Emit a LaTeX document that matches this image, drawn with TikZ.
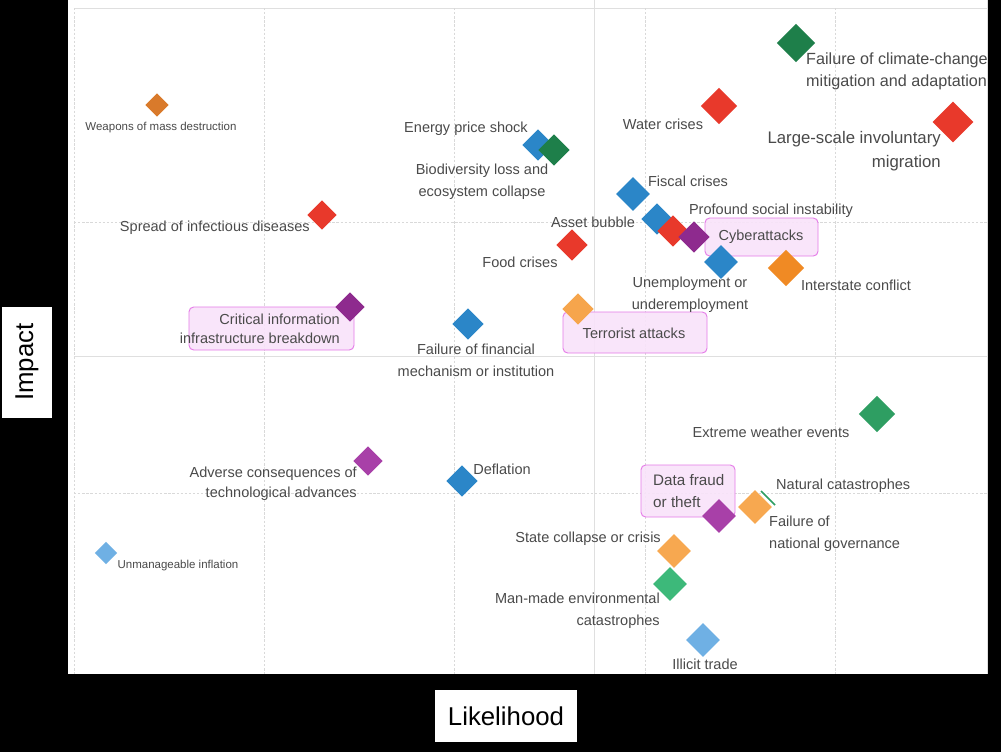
\documentclass[tikz,border=0pt]{standalone}
\usepackage{fontspec}
\setmainfont{Liberation Sans}
\usetikzlibrary{shapes.geometric}
\definecolor{lab}{HTML}{4A4A4A}
\definecolor{cred}{HTML}{E8392B}
\definecolor{cblue}{HTML}{2B86C8}
\definecolor{cgreen}{HTML}{1E7F4A}
\definecolor{cpurp}{HTML}{8E2A8E}
\definecolor{corng}{HTML}{F08A24}
\definecolor{clorng}{HTML}{F7A850}
\definecolor{cwmd}{HTML}{D97A2B}
\definecolor{cmgreen}{HTML}{3DB97A}
\definecolor{cegreen}{HTML}{2E9E62}
\definecolor{clblue}{HTML}{6FB0E4}
\definecolor{cmag}{HTML}{A840A8}
\definecolor{boxfill}{HTML}{F9E3FA}
\definecolor{boxdraw}{HTML}{E57BE8}
\tikzset{
 dm/.style={diamond,inner sep=0pt,minimum size=#1,draw=none,aspect=1},
 lb/.style={text=lab,font=\fontsize{12.4}{13}\selectfont,inner sep=0pt,align=center},
 sl/.style={text=lab,font=\fontsize{9.8}{11}\selectfont,inner sep=0pt},
 hl/.style={draw=boxdraw,fill=boxfill,rounded corners=4pt,line width=0.8pt,fill opacity=0.9,text opacity=1},
 gdash/.style={gray!30,dash pattern=on 2pt off 1.5pt,line width=0.5pt},
 gsol/.style={gray!25,line width=0.8pt}
}
\begin{document}
\begin{tikzpicture}[x=0.03cm,y=-0.03cm]
\fill[black] (0,0) rectangle (1001,752);
\useasboundingbox (0,0) rectangle (1001,752);
\fill[white] (68,0) rectangle (988,674);
% grid
\draw[gsol] (74,8) -- (988,8);
\draw[gsol] (987,0) -- (987,674);
\draw[gsol] (594,0) -- (594,674);
\draw[gsol] (74,356) -- (988,356);
\foreach \x in {74,264,454,645,835} \draw[gdash] (\x,8) -- (\x,674);
\foreach \y in {222,493} \draw[gdash] (74,\y) -- (987,\y);
% axis labels
\node[fill=white,rotate=90,inner sep=0pt,minimum height=1.5cm,minimum width=3.33cm,font=\fontsize{22}{24}\selectfont] (imp) at (27,362) {Impact};
\node[fill=white,inner sep=0pt,minimum width=4.26cm,minimum height=1.56cm,font=\fontsize{22}{24}\selectfont] (lik) at (506,716) {Likelihood};
% highlight boxes
\draw[hl] (189,307) rectangle (354,350);
\draw[hl] (705,218) rectangle (818,256);
\draw[hl] (563,312) rectangle (707,353);
\draw[hl] (641,465) rectangle (735,517);
% diamonds
\node[dm=20,fill=cwmd] (wmd) at (157,105) {};
\node[dm=25,fill=cred] (sid) at (322,215) {};
\node[dm=25,fill=cpurp] (cii) at (350,307) {};
\node[dm=27,fill=cblue] (ffm) at (468,324) {};
\node[dm=27,fill=cblue] (eps) at (538,145) {};
\node[dm=27,fill=cgreen] (bio) at (554,150) {};
\node[dm=29,fill=cblue] (fis) at (633,194) {};
\node[dm=27,fill=cblue] (ass) at (657,219) {};
\node[dm=27,fill=cred] (food) at (572,245) {};
\node[dm=27,fill=cred] (psi) at (673,231) {};
\node[dm=27,fill=cpurp] (cyb) at (694,237) {};
\node[dm=29,fill=cblue] (une) at (721,262) {};
\node[dm=31,fill=corng] (int) at (786,268) {};
\node[dm=27,fill=clorng!90!corng] (ter) at (578,309) {};
\node[dm=31,fill=cred] (wat) at (719,106) {};
\node[dm=33,fill=cgreen] (clim) at (796,43) {};
\node[dm=35,fill=cred] (mig) at (953,122) {};
\node[dm=31,fill=cegreen] (ext) at (877,414) {};
\node[dm=25,fill=cmag] (adv) at (368,461) {};
\node[dm=27,fill=cblue] (def) at (462,481) {};
\node[dm=19,fill=clblue] (inf) at (106,553) {};
\node[dm=29,fill=cmag] (dat) at (719,516) {};
\node[dm=29,fill=clorng] (gov) at (755,507) {};
\coordinate (nc1) at (761,491);
\coordinate (nc2) at (775,505);
\draw[cegreen,line width=1.5pt] (nc1) -- (nc2);
\node[dm=29,fill=clorng] (sta) at (674,551) {};
\node[dm=29,fill=cmgreen] (man) at (670,584) {};
\node[dm=29,fill=clblue] (ill) at (703,640) {};
% labels
\node[sl] (lwmd) at (161,128) {Weapons of mass destruction};
\node[sl] (linf) at (178,566) {Unmanageable inflation};
\node[lb,anchor=east] (lsid) at (310,228) {Spread of infectious diseases};
\node[lb,align=right,anchor=east,font=\fontsize{12.4}{16}\selectfont] (lcii) at (340,329) {Critical information\\infrastructure breakdown};
\node[lb,font=\fontsize{12.4}{19}\selectfont] (lffm) at (476,360) {Failure of financial\\mechanism or institution};
\node[lb] (leps) at (466,129) {Energy price shock};
\node[lb,font=\fontsize{12.4}{19}\selectfont] (lbio) at (482,182) {Biodiversity loss and\\ecosystem collapse};
\node[lb] (lfis) at (688,181) {Fiscal crises};
\node[lb] (lass) at (593,222) {Asset bubble};
\node[lb] (lfood) at (520,262) {Food crises};
\node[lb] (lpsi) at (771,211) {Profound social instability};
\node[lb] (lcyb) at (761,237) {Cyberattacks};
\node[lb,font=\fontsize{12.4}{19}\selectfont] (lune) at (690,295) {Unemployment or\\underemployment};
\node[lb] (lint) at (856,285) {Interstate conflict};
\node[lb] (lter) at (634,333) {Terrorist attacks};
\node[lb] (lwat) at (663,124) {Water crises};
\node[lb,align=left,anchor=west,font=\fontsize{13.8}{19}\selectfont] (lclim) at (806,71) {Failure of climate-change\\mitigation and adaptation};
\node[lb,align=right,anchor=east,font=\fontsize{14.3}{21}\selectfont] (lmig) at (941,151) {Large-scale involuntary\\migration};
\node[lb] (lext) at (771,432) {Extreme weather events};
\node[lb,align=right,anchor=east,font=\fontsize{12.4}{17}\selectfont] (ladv) at (357,484) {Adverse consequences of\\technological advances};
\node[lb] (ldef) at (502,469) {Deflation};
\node[lb,align=left,anchor=west,font=\fontsize{13}{19}\selectfont] (ldat) at (653,491) {Data fraud\\or theft};
\node[lb,anchor=west] (lnat) at (776,486) {Natural catastrophes};
\node[lb,align=left,anchor=west,font=\fontsize{12.4}{19}\selectfont] (lgov) at (769,534) {Failure of\\national governance};
\node[lb,anchor=east] (lsta) at (661,539) {State collapse or crisis};
\node[lb,align=right,anchor=east,font=\fontsize{12.4}{19}\selectfont] (lman) at (660,611) {Man-made environmental\\catastrophes};
\node[lb] (lill) at (705,664) {Illicit trade};
\end{tikzpicture}
\end{document}
